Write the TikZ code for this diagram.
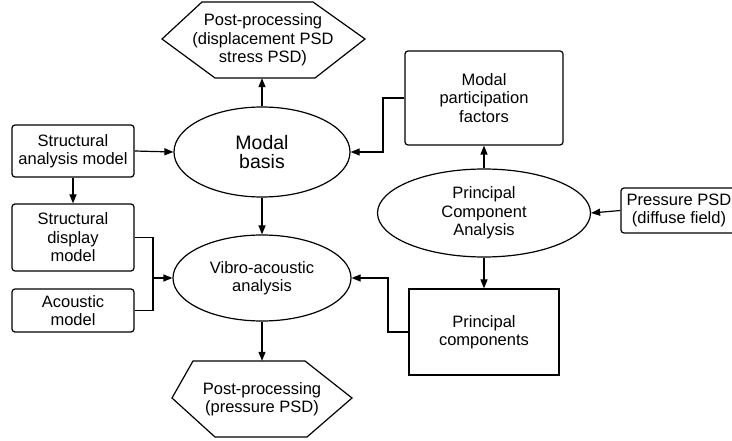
\documentclass[tikz,border=0pt]{standalone}
\usepackage{fontspec}
\setmainfont{Liberation Sans}
\usetikzlibrary{shapes.geometric,arrows.meta,calc}
\begin{document}
\begin{tikzpicture}[x=1pt,y=-1pt,
  every node/.style={font=\fontsize{16.5}{18.5}\selectfont, align=center, inner sep=0pt},
  line/.style={draw=black, line width=1.2pt},
  arr/.style={line, -{Triangle[length=9pt,width=7pt]}},
  rbox/.style={line, rounded corners=3pt, rectangle},
  sbox/.style={line, rectangle},
  ell/.style={line, ellipse},
  hextext/.style={minimum width=150pt, minimum height=76pt}
]
\useasboundingbox (0,0) rectangle (732,441);
\clip (0,0) rectangle (732,441);
% hexagons (shapes drawn directly)
\draw[line, line join=miter] (202,2) -- (313,2) -- (365,39) -- (315,78) -- (215,78) -- (162,39) -- cycle;
\draw[line, line join=miter] (193,361) -- (305,361) -- (352,398) -- (307,437) -- (215,437) -- (172,398) -- cycle;
\node[hextext] (hexT) at (263,40) {Post-processing\\(displacement PSD\\stress PSD)};
\node[hextext] (hexB) at (262,399) {Post-processing\\(pressure PSD)};
% nodes
\node[ell, minimum width=176pt, minimum height=90pt, font=\fontsize{19.5}{19}\selectfont] (modal) at (262,152) {Modal\\basis};
\node[ell, minimum width=178pt, minimum height=86pt] (vibro) at (262,278) {Vibro-acoustic\\analysis};
\node[rbox, minimum width=122pt, minimum height=52pt] (sam) at (73,151) {Structural\\analysis model};
\node[rbox, minimum width=122pt, minimum height=67pt] (sdm) at (73,237.5) {Structural\\display\\model};
\node[rbox, minimum width=122pt, minimum height=43pt] (acm) at (73,310.5) {Acoustic\\model};
\node[rbox, minimum width=158pt, minimum height=94pt] (mpf) at (484,98) {Modal\\participation\\factors};
\node[ell, minimum width=213pt, minimum height=88pt] (pca) at (484,213) {Principal\\Component\\Analysis};
\node[rbox, minimum width=116pt, minimum height=45pt] (psd) at (679,210.5) {Pressure PSD\\(diffuse field)};
\node[sbox, minimum width=150pt, minimum height=86pt] (pc) at (484,332) {Principal\\components};
% helper coordinates
\coordinate (jn) at (153,278);
\coordinate (cm) at (383,0);
\coordinate (cp) at (388,0);
% connectors
\draw[arr] (modal.north) -- (modal.north |- hexT.south);
\draw[arr] (sam.east) -- (modal.west);
\draw[arr] (sam.south) -- (sdm.north);
\draw[line] (sdm.east) -| (jn) |- (acm.east);
\draw[arr] (jn) -- (vibro.west);
\draw[arr] (modal.south) -- (vibro.north);
\draw[arr] (vibro.south) -- (vibro.south |- hexB.north);
\draw[arr] (mpf.west) -- (mpf.west -| cm) |- (modal.east);
\draw[arr] (pca.north) -- (mpf.south);
\draw[arr] (psd.west) -- (pca.east);
\draw[arr] (pca.south) -- (pc.north);
\draw[arr] (pc.west) -- (pc.west -| cp) |- (vibro.east);
\end{tikzpicture}
\end{document}
